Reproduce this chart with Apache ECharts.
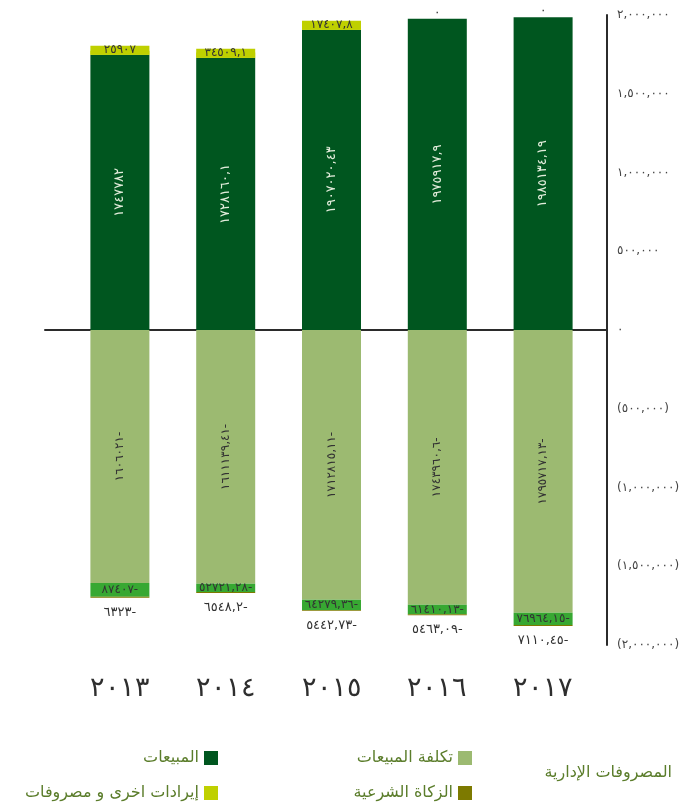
<!DOCTYPE html>
<html>
<head>
<meta charset="utf-8">
<script src="https://cdn.jsdelivr.net/npm/echarts@6/dist/echarts.min.js"></script>
<style>
html,body{margin:0;padding:0;background:#fff;}
#c{width:686px;height:806px;}
</style>
</head>
<body>
<div id="c"></div>
<script>
const years = ['٢٠١٣', '٢٠١٤', '٢٠١٥', '٢٠١٦', '٢٠١٧'];
const sales = [1747782, 1728160.1, 1907020.43, 1975917.9, 1985134.19];
const otherIncome = [25907, 34509.1, 17407.8, 0, 0];
const costOfSales = [-1606021, -1611139.41, -1712815.11, -1743960.6, -1795717.13];
const adminExpenses = [-87407, -52721.28, -64279.36, -61410.13, -76964.15];
const zakat = [-6323, -6548.2, -5442.73, -5463.09, -7110.45];
const yMin = -2000000, yMax = 2000000, yStep = 500000;

const names = {
  sales: 'المبيعات',
  other: 'إيرادات اخرى و مصروفات',
  cost: 'تكلفة المبيعات',
  zakat: 'الزكاة الشرعية',
  admin: 'المصروفات الإدارية'
};
const colors = {
  sales: '#00561f', other: '#bfd000', cost: '#9cba71', zakat: '#7d7a00', admin: '#37a832'
};
const FONT = 'DejaVu Sans';
const AR = '٠١٢٣٤٥٦٧٨٩';
const LRO = '\u202D', PDF = '\u202C';
const toAr = s => s.replace(/\d/g, d => AR[+d]);
const valLabel = v => toAr(String(Math.abs(v)).replace('.', ',')) + (v < 0 ? '-' : '');
const axisLabel = v => {
  if (v === 0) return '٠';
  const s = toAr(Math.abs(v).toLocaleString('en-US'));
  return v < 0 ? LRO + '(' + s + ')' + PDF : s;
};

const chart = echarts.init(document.getElementById('c'), null, {renderer: 'canvas'});

const legendBase = (name, right, top, icon) => ({
  data: [icon ? {name: name, icon: icon} : name],
  right: right, top: top, padding: 0,
  itemWidth: 14, itemHeight: 14, align: 'right',
  selectedMode: false,
  textStyle: {color: '#5b7d2b', fontSize: 16, fontFamily: FONT}
});

chart.setOption({
  animation: false,
  backgroundColor: '#ffffff',
  textStyle: {fontFamily: FONT},
  grid: [
    {left: 45, right: 79, top: 15, bottom: 161},
    {left: 67, right: 90, top: 15, bottom: 161}
  ],
  legend: [
    legendBase(names.sales, 468, 750, 'rect'),
    legendBase(names.other, 468, 785, 'rect'),
    legendBase(names.cost, 214, 750, 'rect'),
    legendBase(names.zakat, 214, 785, 'rect'),
    legendBase(names.admin, 9, 765, 'none')
  ],
  xAxis: [
    {gridIndex: 0, type: 'value', min: 0, max: 1, show: true,
     axisLine: {show: true, onZero: true, lineStyle: {color: '#2b2b2b', width: 2}},
     axisTick: {show: false}, axisLabel: {show: false}, splitLine: {show: false}},
    {gridIndex: 1, type: 'category', data: years, position: 'bottom',
     axisLine: {show: false, onZero: false}, axisTick: {show: false},
     axisLabel: {margin: 30, fontSize: 27, color: '#2e2e2e', fontFamily: FONT, fontWeight: 200}}
  ],
  yAxis: [
    {gridIndex: 0, type: 'value', position: 'right', min: yMin, max: yMax, interval: yStep,
     axisLine: {show: true, onZero: false, lineStyle: {color: '#2b2b2b', width: 2}},
     axisTick: {show: false}, splitLine: {show: false},
     axisLabel: {margin: 10, fontSize: 12, color: '#444', formatter: axisLabel, fontFamily: FONT}},
    {gridIndex: 1, type: 'value', min: yMin, max: yMax, interval: yStep, show: false}
  ],
  series: [
    {name: names.sales, type: 'bar', xAxisIndex: 1, yAxisIndex: 1, stack: 'a', barWidth: 59,
     itemStyle: {color: colors.sales}, data: sales,
     label: {show: true, position: 'inside', rotate: 90, color: '#e2ecdb', fontSize: 13,
             formatter: p => valLabel(p.value)}},
    {name: names.other, type: 'bar', xAxisIndex: 1, yAxisIndex: 1, stack: 'a', barWidth: 59,
     itemStyle: {color: colors.other},
     data: otherIncome.map(v => v === 0
       ? {value: v, label: {position: 'top', backgroundColor: 'transparent', distance: 1, width: null, height: null}}
       : v),
     label: {show: true, position: 'insideBottom', distance: 0, color: '#333', fontSize: 12,
             backgroundColor: colors.other, width: 59, height: 9, lineHeight: 10, align: 'center',
             formatter: p => valLabel(p.value)}},
    {name: names.cost, type: 'bar', xAxisIndex: 1, yAxisIndex: 1, stack: 'a', barWidth: 59,
     itemStyle: {color: colors.cost}, data: costOfSales,
     label: {show: true, position: 'inside', rotate: 90, color: '#333', fontSize: 12,
             formatter: p => valLabel(p.value)}},
    {name: names.admin, type: 'bar', xAxisIndex: 1, yAxisIndex: 1, stack: 'a', barWidth: 59,
     itemStyle: {color: colors.admin}, data: adminExpenses,
     label: {show: true, position: 'inside', color: '#333', fontSize: 12,
             formatter: p => valLabel(p.value)}},
    {name: names.zakat, type: 'bar', xAxisIndex: 1, yAxisIndex: 1, stack: 'a', barWidth: 59,
     itemStyle: {color: colors.zakat}, data: zakat,
     label: {show: true, position: 'bottom', distance: 8, color: '#333', fontSize: 13,
             formatter: p => valLabel(p.value)}}
  ]
});
</script>
</body>
</html>
